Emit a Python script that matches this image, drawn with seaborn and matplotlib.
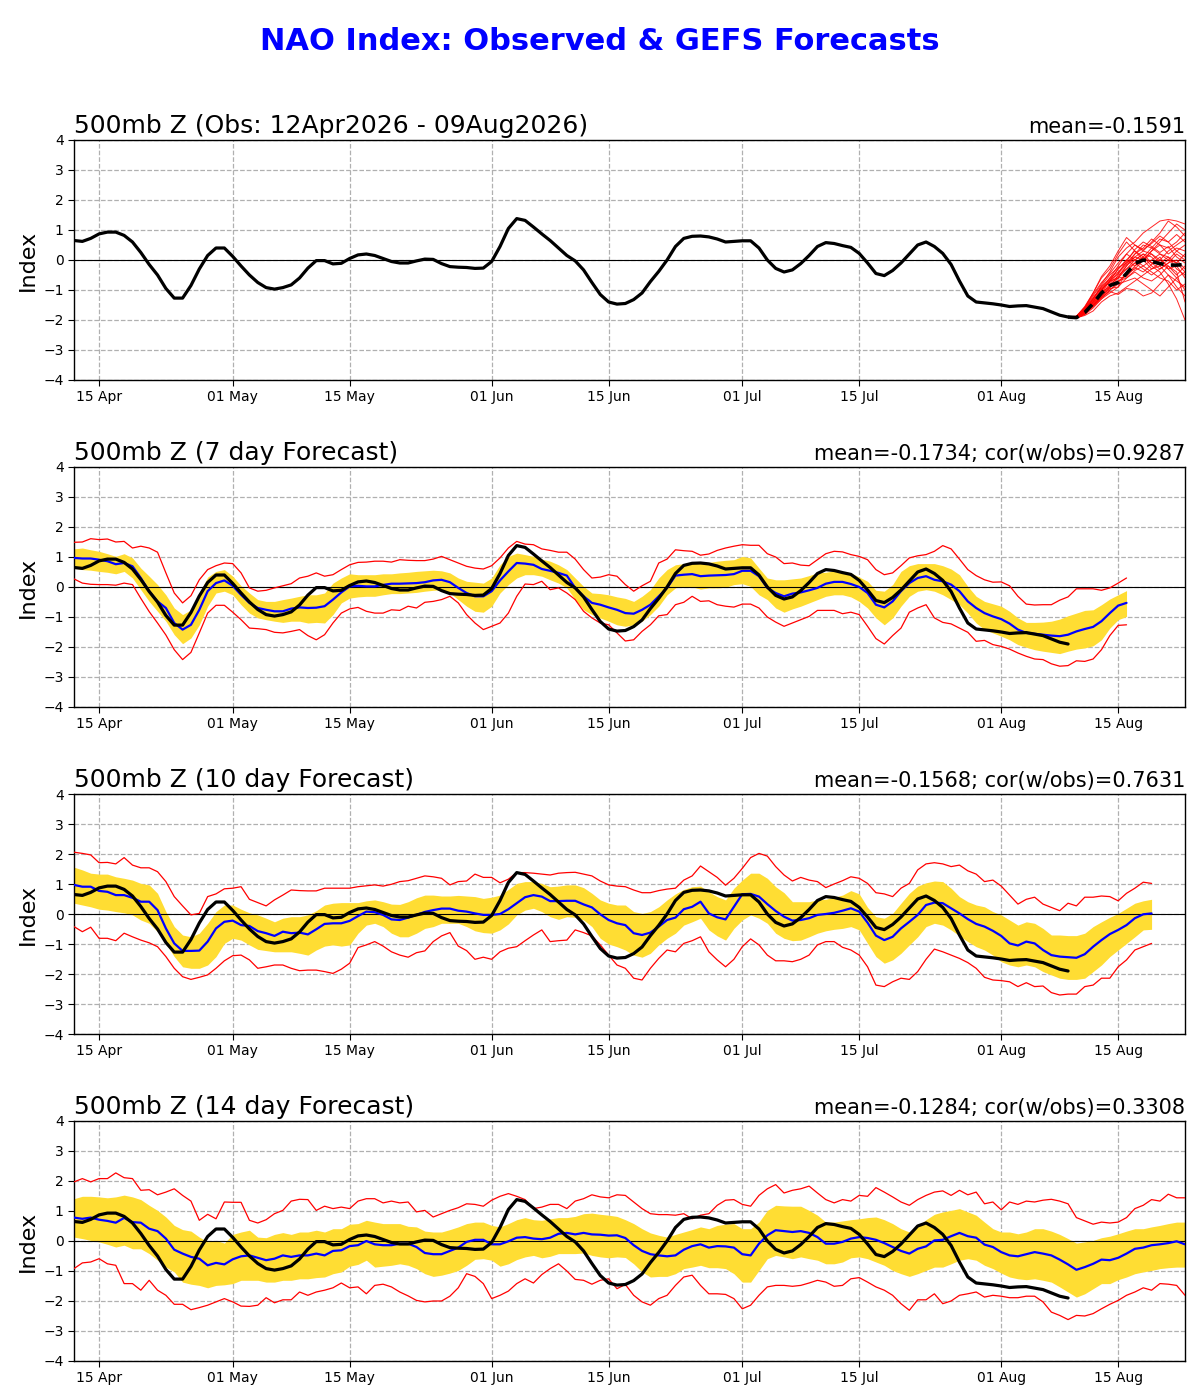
import numpy as np
import pandas as pd
import matplotlib
matplotlib.use("Agg")
import matplotlib.pyplot as plt
import matplotlib.dates as mdates
import seaborn as sns

# ---------------- data (daily, starting 12 Apr 2026) ----------------
start_date = "2026-04-12"

obs = [0.65, 0.62, 0.72, 0.87, 0.93, 0.93, 0.82, 0.6, 0.25, -0.15,
       -0.5, -0.95, -1.27, -1.27, -0.85, -0.3, 0.15, 0.4, 0.4, 0.12,
       -0.2, -0.5, -0.75, -0.92, -0.97, -0.92, -0.83, -0.6, -0.27, -0.02,
       -0.02, -0.13, -0.11, 0.05, 0.17, 0.2, 0.15, 0.05, -0.05, -0.1,
       -0.1, -0.03, 0.03, 0.02, -0.12, -0.22, -0.24, -0.25, -0.28, -0.27,
       -0.05, 0.45, 1.05, 1.38, 1.32, 1.1, 0.87, 0.65, 0.4, 0.15,
       -0.03, -0.33, -0.75, -1.15, -1.4, -1.47, -1.45, -1.32, -1.1, -0.72,
       -0.38, 0.0, 0.45, 0.72, 0.79, 0.8, 0.77, 0.7, 0.6, 0.62,
       0.64, 0.64, 0.4, 0.0, -0.28, -0.4, -0.33, -0.12, 0.15, 0.45,
       0.58, 0.55, 0.48, 0.42, 0.22, -0.1, -0.45, -0.52, -0.35, -0.1,
       0.2, 0.5, 0.6, 0.45, 0.22, -0.15, -0.7, -1.2, -1.4, -1.43,
       -1.46, -1.5, -1.55, -1.53, -1.52, -1.57, -1.62, -1.73, -1.84, -1.9]

# GEFS ensemble (top panel), 09 Aug .. 23 Aug
ens_members = [
    [-1.9, -1.88, -1.6, -1.2, -0.8, -0.4, 0.1, 0.4, 0.6, 0.9, 1.1, 1.3, 1.35, 1.3, 1.2],
    [-1.9, -1.9, -1.7, -1.4, -1.0, -0.6, -0.2, 0.2, 0.5, 0.3, 0.6, 0.9, 1.3, 1.1, 0.8],
    [-1.9, -1.95, -1.8, -1.5, -1.2, -0.9, -0.5, -0.3, 0.0, 0.2, 0.1, -0.2, -0.5, -0.9, -1.2],
    [-1.9, -1.92, -1.75, -1.45, -1.1, -0.7, -0.3, 0.0, 0.3, 0.1, -0.2, -0.4, -0.8, -1.3, -2.0],
    [-1.9, -1.9, -1.65, -1.3, -0.9, -0.6, -0.4, -0.1, 0.2, 0.5, 0.4, 0.2, 0.0, -0.1, 0.2],
    [-1.9, -1.93, -1.85, -1.7, -1.4, -1.2, -1.1, -0.9, -0.7, -0.5, -0.3, -0.1, 0.1, -0.1, -0.4],
    [-1.9, -1.88, -1.55, -1.1, -0.6, -0.3, 0.2, 0.6, 0.3, 0.0, -0.3, -0.2, 0.0, 0.3, 0.5],
    [-1.9, -1.91, -1.7, -1.35, -1.05, -0.9, -0.7, -0.5, -0.2, 0.0, 0.3, 0.6, 0.9, 1.2, 1.0],
    [-1.9, -1.94, -1.8, -1.55, -1.3, -1.0, -0.8, -0.7, -0.6, -0.8, -1.0, -1.2, -0.9, -0.6, -0.4],
    [-1.9, -1.9, -1.72, -1.42, -1.15, -0.8, -0.6, -0.3, -0.1, 0.1, -0.1, 0.0, 0.3, 0.5, 0.7],
    [-1.9, -1.89, -1.62, -1.25, -0.95, -0.75, -0.55, -0.2, 0.1, 0.3, 0.2, -0.1, -0.3, -0.2, -0.6],
    [-1.9, -1.92, -1.78, -1.5, -1.2, -0.95, -0.9, -0.6, -0.35, -0.2, -0.4, -0.6, -0.7, -1.0, -0.8],
    [-1.9, -1.9, -1.68, -1.3, -0.85, -0.5, -0.25, -0.1, 0.1, 0.0, 0.3, 0.5, 0.4, 0.6, 0.9],
    [-1.9, -1.93, -1.82, -1.6, -1.3, -1.1, -0.9, -0.4, -0.1, -0.3, -0.5, -0.3, -0.1, 0.2, 0.0],
    [-1.9, -1.87, -1.58, -1.15, -0.75, -0.45, -0.1, 0.2, 0.0, -0.2, 0.0, 0.2, 0.1, -0.3, -0.5],
    [-1.9, -1.91, -1.74, -1.4, -1.0, -0.7, -0.6, -0.2, 0.2, 0.4, 0.7, 0.5, 0.2, 0.4, 0.3],
    [-1.9, -1.92, -1.76, -1.48, -1.15, -0.85, -0.7, -0.6, -0.4, -0.6, -0.7, -0.5, -0.2, -0.4, -1.4],
    [-1.9, -1.9, -1.66, -1.28, -0.9, -0.65, -0.3, 0.0, -0.2, 0.1, 0.4, 0.7, 0.6, 0.3, 0.1],
    [-1.9, -1.93, -1.8, -1.52, -1.25, -1.0, -0.75, -0.45, -0.3, 0.0, 0.2, 0.0, -0.2, -0.5, -0.2],
    [-1.9, -1.89, -1.64, -1.32, -0.98, -0.72, -0.45, -0.15, 0.0, 0.2, -0.1, -0.3, -0.1, 0.0, -0.3],
    [-1.9, -1.92, -1.77, -1.5, -1.25, -1.05, -1.15, -0.95, -1.0, -1.2, -1.1, -0.8, -0.5, -0.7, -0.9],
    [-1.9, -1.88, -1.58, -1.1, -0.55, -0.2, 0.3, 0.75, 0.5, 0.35, 0.55, 0.8, 0.6, 0.85, 0.6],
    [-1.9, -1.9, -1.7, -1.38, -1.02, -0.68, -0.45, -0.05, 0.35, 0.6, 0.45, 0.25, 0.45, 0.1, -0.1],
    [-1.9, -1.93, -1.79, -1.55, -1.22, -0.92, -0.6, -0.55, -0.25, -0.4, -0.15, 0.1, -0.3, -0.6, -1.0],
]
ens_mean = [-1.9, -1.92, -1.75, -1.45, -1.1, -0.85, -0.75, -0.45, -0.12, 0.0,
            -0.05, -0.12, -0.17, -0.17, -0.15]

# 7-day forecast
mean7 = [0.97, 0.95, 0.95, 0.91, 0.86, 0.76, 0.8, 0.69, 0.3, -0.14,
         -0.48, -0.7, -1.2, -1.42, -1.26, -0.76, -0.14, 0.13, 0.22, 0.04,
         -0.26, -0.53, -0.7, -0.76, -0.81, -0.81, -0.72, -0.68, -0.7, -0.69,
         -0.64, -0.42, -0.18, 0.02, 0.04, 0.02, 0.02, 0.07, 0.11, 0.11,
         0.12, 0.13, 0.16, 0.22, 0.24, 0.16, -0.03, -0.2, -0.31, -0.31,
         -0.14, 0.22, 0.52, 0.8, 0.78, 0.74, 0.6, 0.54, 0.47, 0.38,
         -0.03, -0.31, -0.53, -0.59, -0.68, -0.76, -0.87, -0.89, -0.76, -0.59,
         -0.31, -0.03, 0.38, 0.41, 0.43, 0.36, 0.38, 0.39, 0.4, 0.43,
         0.54, 0.54, 0.36, -0.03, -0.2, -0.31, -0.22, -0.18, -0.11, -0.03,
         0.11, 0.17, 0.17, 0.1, 0.0, -0.2, -0.59, -0.68, -0.48, -0.14,
         0.13, 0.3, 0.36, 0.24, 0.19, 0.08, -0.14, -0.48, -0.7, -0.87,
         -0.98, -1.07, -1.22, -1.42, -1.53, -1.56, -1.59, -1.62, -1.64, -1.59,
         -1.48, -1.4, -1.33, -1.14, -0.87, -0.62, -0.53]
hi7 = [1.27, 1.3, 1.24, 1.19, 1.11, 1.02, 1.11, 0.97, 0.63, 0.36,
       0.08, -0.26, -0.7, -0.92, -0.76, -0.2, 0.33, 0.52, 0.58, 0.36,
       0.04, -0.2, -0.42, -0.48, -0.48, -0.42, -0.37, -0.31, -0.26, -0.26,
       -0.2, 0.13, 0.3, 0.44, 0.41, 0.41, 0.41, 0.44, 0.44, 0.47,
       0.49, 0.52, 0.54, 0.56, 0.54, 0.47, 0.3, 0.19, 0.16, 0.13,
       0.3, 0.74, 1.02, 1.13, 1.08, 1.02, 0.93, 0.86, 0.74, 0.58,
       0.3, 0.02, -0.2, -0.22, -0.26, -0.33, -0.38, -0.48, -0.31, -0.09,
       0.3, 0.58, 0.74, 0.78, 0.78, 0.8, 0.82, 0.86, 0.89, 0.91,
       1.02, 0.97, 0.63, 0.3, 0.24, 0.24, 0.27, 0.3, 0.38, 0.47,
       0.49, 0.54, 0.52, 0.47, 0.33, 0.19, -0.11, -0.14, 0.08, 0.52,
       0.71, 0.78, 0.78, 0.78, 0.71, 0.6, 0.41, 0.02, -0.31, -0.48,
       -0.56, -0.64, -0.81, -1.03, -1.18, -1.18, -1.17, -1.14, -1.07, -0.96,
       -0.87, -0.78, -0.76, -0.59, -0.4, -0.26, -0.12]
lo7 = [0.63, 0.58, 0.56, 0.52, 0.49, 0.44, 0.52, 0.3, -0.09, -0.48,
       -0.81, -1.14, -1.59, -1.89, -1.7, -1.26, -0.64, -0.2, -0.14, -0.26,
       -0.59, -0.87, -1.03, -1.09, -1.14, -1.18, -1.14, -1.14, -1.2, -1.18,
       -1.2, -0.92, -0.53, -0.37, -0.33, -0.31, -0.31, -0.26, -0.22, -0.22,
       -0.2, -0.18, -0.14, -0.11, -0.09, -0.2, -0.42, -0.64, -0.81, -0.84,
       -0.64, -0.2, 0.08, 0.3, 0.41, 0.41, 0.36, 0.24, 0.13, -0.03,
       -0.42, -0.76, -0.92, -1.03, -1.14, -1.26, -1.31, -1.26, -1.14, -0.92,
       -0.64, -0.26, -0.03, 0.02, 0.0, -0.07, -0.03, -0.03, -0.01, 0.08,
       0.11, 0.02, -0.26, -0.42, -0.7, -0.84, -0.73, -0.64, -0.53, -0.42,
       -0.31, -0.26, -0.26, -0.33, -0.48, -0.7, -1.03, -1.26, -1.03, -0.64,
       -0.31, -0.14, -0.09, -0.14, -0.26, -0.42, -0.59, -0.87, -1.2, -1.42,
       -1.53, -1.64, -1.76, -1.92, -2.01, -2.09, -2.14, -2.18, -2.22, -2.14,
       -2.07, -2.03, -1.96, -1.76, -1.37, -1.09, -0.98]
max7 = [1.49, 1.5, 1.61, 1.58, 1.6, 1.5, 1.52, 1.3, 1.36, 1.3,
        1.16, 0.47, -0.2, -0.53, -0.29, 0.24, 0.58, 0.71, 0.8, 0.78,
        0.47, -0.03, -0.14, -0.11, -0.03, 0.04, 0.11, 0.3, 0.36, 0.47,
        0.36, 0.41, 0.58, 0.74, 0.82, 0.83, 0.86, 0.86, 0.83, 0.91,
        0.89, 0.88, 0.88, 0.93, 1.02, 0.91, 0.8, 0.69, 0.63, 0.6,
        0.71, 0.97, 1.3, 1.52, 1.43, 1.41, 1.27, 1.22, 1.16, 1.16,
        0.93, 0.58, 0.3, 0.33, 0.41, 0.36, 0.08, -0.14, 0.04, 0.19,
        0.8, 0.93, 1.24, 1.21, 1.19, 1.06, 1.1, 1.22, 1.3, 1.36,
        1.41, 1.39, 1.39, 1.11, 1.0, 0.78, 0.8, 0.73, 0.71, 0.91,
        1.11, 1.19, 1.17, 1.08, 1.02, 0.91, 0.58, 0.41, 0.47, 0.71,
        0.97, 1.04, 1.08, 1.19, 1.38, 1.27, 0.93, 0.58, 0.38, 0.24,
        0.16, 0.17, 0.04, -0.31, -0.57, -0.6, -0.59, -0.59, -0.44, -0.33,
        -0.06, -0.06, -0.06, -0.11, -0.03, 0.13, 0.3]
min7 = [0.27, 0.13, 0.09, 0.08, 0.08, 0.06, 0.13, 0.08, -0.38, -0.82,
        -1.2, -1.6, -2.09, -2.42, -2.18, -1.53, -0.87, -0.61, -0.61, -0.84,
        -1.09, -1.37, -1.39, -1.42, -1.51, -1.53, -1.48, -1.42, -1.62, -1.76,
        -1.59, -1.2, -0.87, -0.73, -0.68, -0.81, -0.87, -0.87, -0.76, -0.78,
        -0.64, -0.7, -0.51, -0.48, -0.42, -0.31, -0.53, -0.92, -1.2, -1.42,
        -1.31, -1.2, -0.87, -0.31, 0.1, 0.08, 0.19, -0.09, -0.03, -0.2,
        -0.42, -0.81, -1.03, -1.2, -1.26, -1.53, -1.8, -1.76, -1.48, -1.26,
        -0.96, -0.92, -0.59, -0.51, -0.31, -0.48, -0.46, -0.59, -0.64, -0.67,
        -0.57, -0.57, -0.7, -1.0, -1.17, -1.31, -1.2, -1.09, -0.98, -0.78,
        -0.78, -0.78, -0.89, -0.84, -0.92, -1.31, -1.72, -1.9, -1.62, -1.37,
        -0.84, -0.7, -0.59, -1.03, -1.18, -1.23, -1.37, -1.51, -1.81, -1.78,
        -1.92, -1.98, -2.07, -2.2, -2.31, -2.4, -2.42, -2.56, -2.64, -2.62,
        -2.46, -2.48, -2.4, -2.09, -1.62, -1.28, -1.26]

# 10-day forecast
mean10 = [0.97, 0.91, 0.91, 0.77, 0.74, 0.63, 0.63, 0.54, 0.41, 0.41,
          0.13, -0.48, -0.98, -1.23, -1.23, -1.22, -0.92, -0.48, -0.26, -0.22,
          -0.37, -0.4, -0.57, -0.64, -0.73, -0.59, -0.64, -0.62, -0.68, -0.51,
          -0.33, -0.31, -0.31, -0.23, -0.07, 0.08, 0.06, -0.03, -0.18, -0.2,
          -0.12, -0.03, 0.07, 0.13, 0.18, 0.18, 0.11, 0.08, 0.02, -0.03,
          -0.03, 0.0, 0.16, 0.36, 0.56, 0.63, 0.58, 0.43, 0.43, 0.44,
          0.44, 0.32, 0.22, -0.01, -0.2, -0.31, -0.37, -0.64, -0.7, -0.62,
          -0.42, -0.2, -0.12, 0.16, 0.24, 0.41, 0.02, -0.11, -0.18, 0.24,
          0.66, 0.67, 0.58, 0.33, 0.1, -0.09, -0.22, -0.2, -0.14, -0.03,
          0.0, 0.04, 0.11, 0.19, 0.08, -0.29, -0.72, -0.87, -0.76, -0.48,
          -0.26, -0.03, 0.3, 0.38, 0.36, 0.19, 0.02, -0.17, -0.33, -0.42,
          -0.56, -0.73, -0.98, -1.05, -0.92, -0.98, -1.2, -1.37, -1.42, -1.44,
          -1.46, -1.34, -1.09, -0.87, -0.67, -0.53, -0.37, -0.14, -0.01, 0.02]
hi10 = [1.56, 1.47, 1.36, 1.33, 1.33, 1.24, 1.19, 1.13, 1.02, 0.97,
        0.69, 0.08, -0.42, -0.7, -0.76, -0.64, -0.31, 0.08, 0.3, 0.3,
        0.16, 0.04, -0.03, -0.14, -0.26, -0.14, -0.09, -0.09, -0.03, 0.11,
        0.3, 0.36, 0.38, 0.38, 0.38, 0.44, 0.47, 0.41, 0.33, 0.32,
        0.41, 0.54, 0.63, 0.63, 0.6, 0.6, 0.62, 0.6, 0.58, 0.52,
        0.56, 0.63, 0.82, 1.02, 1.08, 1.08, 1.02, 0.91, 0.93, 0.97,
        0.97, 0.88, 0.69, 0.47, 0.36, 0.3, 0.3, 0.08, 0.02, 0.08,
        0.24, 0.47, 0.67, 0.82, 0.91, 0.93, 0.74, 0.58, 0.47, 0.86,
        1.13, 1.36, 1.36, 1.19, 0.91, 0.71, 0.41, 0.41, 0.41, 0.47,
        0.49, 0.56, 0.63, 0.78, 0.67, 0.22, -0.09, -0.14, 0.02, 0.36,
        0.69, 0.93, 1.04, 1.1, 1.08, 0.86, 0.58, 0.41, 0.3, 0.24,
        0.08, -0.03, -0.2, -0.37, -0.26, -0.31, -0.48, -0.7, -0.7, -0.72,
        -0.72, -0.64, -0.42, -0.26, -0.11, 0.02, 0.19, 0.36, 0.44, 0.49]
lo10 = [0.36, 0.3, 0.24, 0.16, 0.13, 0.08, 0.04, -0.03, -0.2, -0.31,
        -0.59, -0.98, -1.42, -1.76, -1.81, -1.81, -1.7, -1.42, -0.98, -0.81,
        -0.87, -1.03, -1.18, -1.22, -1.26, -1.26, -1.26, -1.31, -1.37, -1.2,
        -1.07, -1.03, -1.07, -1.03, -0.64, -0.37, -0.31, -0.42, -0.64, -0.76,
        -0.76, -0.64, -0.48, -0.42, -0.31, -0.31, -0.31, -0.42, -0.56, -0.62,
        -0.64, -0.53, -0.33, -0.03, 0.13, 0.19, 0.08, -0.09, -0.18, -0.09,
        -0.11, -0.2, -0.42, -0.81, -1.0, -1.09, -1.2, -1.37, -1.44, -1.31,
        -1.03, -0.81, -0.64, -0.37, -0.26, -0.14, -0.53, -0.73, -0.87, -0.48,
        -0.2, -0.03, -0.14, -0.31, -0.64, -0.81, -0.89, -0.87, -0.76, -0.64,
        -0.56, -0.51, -0.48, -0.42, -0.53, -0.98, -1.42, -1.64, -1.53, -1.31,
        -1.03, -0.76, -0.42, -0.31, -0.37, -0.53, -0.73, -0.92, -1.09, -1.2,
        -1.37, -1.59, -1.7, -1.76, -1.7, -1.76, -1.92, -2.03, -2.14, -2.18,
        -2.18, -2.14, -1.92, -1.7, -1.42, -1.2, -0.98, -0.76, -0.53, -0.51]
max10 = [2.06, 2.02, 1.97, 1.71, 1.72, 1.67, 1.88, 1.63, 1.54, 1.54,
         1.41, 1.08, 0.58, 0.27, -0.03, 0.02, 0.58, 0.67, 0.84, 0.86,
         0.91, 0.49, 0.38, 0.27, 0.47, 0.63, 0.8, 0.78, 0.77, 0.77,
         0.86, 0.86, 0.86, 0.86, 0.91, 0.94, 0.97, 0.93, 0.99, 1.08,
         1.11, 1.19, 1.27, 1.24, 1.19, 0.97, 1.08, 1.1, 1.33, 1.22,
         1.22, 1.04, 1.16, 1.38, 1.38, 1.36, 1.33, 1.3, 1.36, 1.38,
         1.39, 1.33, 1.27, 1.1, 0.97, 0.93, 0.91, 0.8, 0.71, 0.71,
         0.78, 0.83, 0.86, 1.13, 1.27, 1.6, 1.41, 1.22, 0.96, 1.19,
         1.52, 1.88, 2.02, 1.93, 1.58, 1.3, 1.1, 1.22, 1.13, 1.08,
         0.88, 1.0, 1.11, 1.24, 1.19, 1.02, 0.71, 0.67, 0.58, 0.86,
         1.02, 1.47, 1.67, 1.71, 1.67, 1.58, 1.63, 1.44, 1.33, 1.08,
         1.13, 0.93, 0.63, 0.33, 0.49, 0.56, 0.33, 0.22, 0.11, 0.36,
         0.27, 0.56, 0.56, 0.6, 0.58, 0.44, 0.69, 0.86, 1.06, 1.02]
min10 = [-0.42, -0.59, -0.44, -0.81, -0.81, -0.89, -0.64, -0.76, -0.87, -0.96,
         -1.09, -1.42, -1.81, -2.09, -2.18, -2.11, -2.03, -1.81, -1.56, -1.39,
         -1.37, -1.53, -1.81, -1.76, -1.7, -1.7, -1.81, -1.89, -1.87, -1.87,
         -1.92, -1.98, -1.84, -1.64, -1.12, -1.03, -0.92, -1.07, -1.26, -1.37,
         -1.44, -1.29, -1.23, -0.92, -0.73, -0.62, -1.07, -1.22, -1.51, -1.44,
         -1.51, -1.26, -1.14, -1.09, -0.89, -0.7, -0.53, -0.92, -0.89, -0.87,
         -0.53, -0.62, -0.73, -1.03, -1.37, -1.7, -1.81, -2.14, -2.2, -1.81,
         -1.48, -1.2, -1.26, -0.98, -0.89, -0.76, -1.26, -1.53, -1.76, -1.51,
         -1.09, -0.83, -1.03, -1.37, -1.56, -1.56, -1.59, -1.51, -1.37, -1.03,
         -0.92, -0.92, -1.11, -1.2, -1.37, -1.76, -2.37, -2.42, -2.26, -2.14,
         -2.18, -1.92, -1.51, -1.17, -1.26, -1.37, -1.48, -1.62, -1.81, -2.11,
         -2.2, -2.22, -2.26, -2.42, -2.29, -2.42, -2.4, -2.62, -2.7, -2.67,
         -2.67, -2.42, -2.37, -2.14, -2.14, -1.76, -1.53, -1.2, -1.09, -0.98]

# 14-day forecast
mean14 = [0.78, 0.74, 0.78, 0.71, 0.67, 0.61, 0.77, 0.63, 0.61, 0.41,
          0.33, 0.08, -0.29, -0.42, -0.53, -0.59, -0.81, -0.73, -0.78, -0.61,
          -0.51, -0.48, -0.56, -0.64, -0.59, -0.48, -0.53, -0.48, -0.48, -0.42,
          -0.48, -0.33, -0.31, -0.17, -0.14, 0.0, -0.11, -0.14, -0.14, -0.09,
          -0.09, -0.2, -0.4, -0.44, -0.44, -0.33, -0.22, -0.03, 0.04, 0.04,
          -0.11, -0.11, -0.01, 0.11, 0.13, 0.08, 0.06, 0.11, 0.24, 0.27,
          0.22, 0.27, 0.22, 0.21, 0.18, 0.19, 0.1, -0.14, -0.33, -0.44,
          -0.48, -0.51, -0.48, -0.29, -0.17, -0.11, -0.22, -0.17, -0.18, -0.22,
          -0.44, -0.48, -0.09, 0.19, 0.36, 0.33, 0.3, 0.33, 0.27, 0.13,
          -0.09, -0.09, -0.03, 0.08, 0.13, 0.1, 0.04, -0.07, -0.2, -0.33,
          -0.42, -0.26, -0.18, 0.02, 0.04, 0.16, 0.27, 0.16, 0.11, -0.12,
          -0.2, -0.37, -0.48, -0.51, -0.44, -0.37, -0.42, -0.48, -0.62, -0.78,
          -0.96, -0.87, -0.76, -0.62, -0.64, -0.56, -0.42, -0.26, -0.22, -0.14,
          -0.11, -0.07, -0.01, -0.11]
hi14 = [1.41, 1.49, 1.49, 1.47, 1.44, 1.47, 1.53, 1.47, 1.38, 1.19,
        1.02, 0.8, 0.52, 0.38, 0.33, 0.13, -0.03, 0.02, -0.07, 0.22,
        0.3, 0.36, 0.13, 0.11, 0.22, 0.28, 0.22, 0.3, 0.3, 0.36,
        0.3, 0.41, 0.41, 0.56, 0.58, 0.69, 0.63, 0.58, 0.58, 0.58,
        0.49, 0.47, 0.33, 0.3, 0.3, 0.38, 0.47, 0.58, 0.63, 0.63,
        0.52, 0.47, 0.58, 0.71, 0.78, 0.71, 0.69, 0.74, 0.78, 0.78,
        0.82, 0.91, 0.93, 0.89, 0.86, 0.82, 0.71, 0.58, 0.41, 0.27,
        0.19, 0.13, 0.22, 0.3, 0.38, 0.47, 0.41, 0.52, 0.56, 0.58,
        0.41, 0.41, 0.63, 1.02, 1.19, 1.17, 1.16, 1.16, 1.02, 0.86,
        0.63, 0.63, 0.67, 0.71, 0.74, 0.78, 0.8, 0.71, 0.58, 0.41,
        0.3, 0.49, 0.71, 0.89, 0.97, 1.02, 1.08, 0.97, 0.86, 0.63,
        0.41, 0.3, 0.3, 0.24, 0.3, 0.41, 0.41, 0.33, 0.22, 0.08,
        -0.07, -0.03, 0.02, 0.11, 0.16, 0.24, 0.33, 0.41, 0.41, 0.47,
        0.52, 0.58, 0.63, 0.63]
lo14 = [0.13, 0.08, 0.02, -0.03, -0.11, -0.2, -0.14, -0.26, -0.26, -0.42,
        -0.64, -0.87, -1.03, -1.37, -1.44, -1.48, -1.56, -1.48, -1.46, -1.42,
        -1.31, -1.31, -1.31, -1.37, -1.37, -1.31, -1.31, -1.26, -1.26, -1.22,
        -1.2, -1.09, -1.03, -0.84, -0.78, -0.64, -0.87, -0.84, -0.81, -0.76,
        -0.81, -0.92, -1.09, -1.18, -1.14, -1.07, -0.98, -0.81, -0.61, -0.59,
        -0.64, -0.84, -0.76, -0.62, -0.53, -0.48, -0.56, -0.51, -0.42, -0.42,
        -0.42, -0.4, -0.48, -0.53, -0.56, -0.53, -0.55, -0.76, -1.03, -1.2,
        -1.18, -1.18, -1.09, -0.92, -0.87, -0.81, -0.89, -0.89, -0.92, -1.09,
        -1.37, -1.37, -0.98, -0.59, -0.48, -0.53, -0.59, -0.53, -0.59, -0.64,
        -0.76, -0.76, -0.7, -0.56, -0.53, -0.59, -0.7, -0.81, -0.98, -1.09,
        -1.18, -1.09, -0.98, -0.87, -0.87, -0.76, -0.64, -0.59, -0.64, -0.81,
        -0.92, -1.07, -1.2, -1.26, -1.29, -1.26, -1.31, -1.37, -1.53, -1.7,
        -1.87, -1.76, -1.59, -1.42, -1.42, -1.29, -1.2, -1.09, -1.03, -0.98,
        -0.92, -0.89, -0.87, -0.87]
max14 = [1.97, 2.08, 1.97, 2.08, 2.08, 2.27, 2.11, 2.08, 1.69, 1.71,
         1.54, 1.63, 1.74, 1.52, 1.33, 0.69, 0.89, 0.74, 1.3, 1.29,
         1.29, 0.69, 0.6, 0.71, 0.91, 1.02, 1.33, 1.39, 1.38, 1.02,
         1.16, 1.08, 1.13, 1.08, 1.33, 1.41, 1.41, 1.27, 1.33, 1.27,
         1.3, 0.97, 1.02, 0.8, 0.91, 1.02, 1.11, 1.24, 1.22, 1.16,
         1.36, 1.49, 1.58, 1.49, 1.38, 1.08, 1.13, 1.22, 1.22, 1.08,
         1.33, 1.41, 1.54, 1.47, 1.44, 1.54, 1.52, 1.3, 1.08, 0.91,
         0.88, 0.88, 0.86, 0.91, 0.74, 0.86, 0.91, 1.19, 1.36, 1.38,
         1.22, 1.16, 1.52, 1.74, 1.88, 1.6, 1.69, 1.74, 1.83, 1.6,
         1.38, 1.27, 1.38, 1.33, 1.52, 1.49, 1.78, 1.63, 1.47, 1.3,
         1.19, 1.38, 1.52, 1.63, 1.67, 1.52, 1.69, 1.54, 1.63, 1.24,
         1.3, 1.04, 1.3, 1.22, 1.33, 1.3, 1.36, 1.39, 1.33, 1.24,
         0.78, 0.67, 0.56, 0.63, 0.6, 0.63, 0.78, 1.08, 1.19, 1.38,
         1.33, 1.56, 1.44, 1.44]
min14 = [-0.92, -0.73, -0.7, -0.59, -0.76, -0.81, -1.42, -1.42, -1.64, -1.31,
         -1.64, -1.81, -2.11, -2.11, -2.29, -2.22, -2.14, -2.03, -1.92, -2.03,
         -2.17, -2.18, -2.14, -1.89, -2.06, -1.96, -1.96, -1.7, -1.81, -1.7,
         -1.64, -1.56, -1.4, -1.56, -1.53, -1.76, -1.48, -1.44, -1.53, -1.7,
         -1.83, -1.98, -2.03, -2.0, -2.0, -1.84, -1.56, -1.09, -1.18, -1.42,
         -1.92, -1.81, -1.67, -1.42, -1.26, -1.4, -1.12, -0.92, -0.76, -1.0,
         -1.28, -1.31, -1.44, -1.31, -1.26, -1.59, -1.45, -1.81, -2.03, -2.14,
         -1.92, -1.81, -1.48, -1.2, -1.14, -1.48, -1.76, -1.76, -1.78, -1.92,
         -2.26, -2.14, -1.81, -1.53, -1.48, -1.48, -1.51, -1.48, -1.4, -1.31,
         -1.37, -1.51, -1.48, -1.26, -1.22, -1.37, -1.53, -1.64, -1.81, -2.09,
         -2.31, -1.96, -1.96, -1.76, -2.09, -2.0, -1.81, -1.76, -1.7, -1.87,
         -1.81, -1.84, -1.89, -1.89, -1.84, -1.84, -2.03, -2.37, -2.48, -2.62,
         -2.48, -2.5, -2.42, -2.26, -2.11, -1.98, -1.81, -1.7, -1.56, -1.64,
         -1.42, -1.44, -1.48, -1.81]

titles_left = ["500mb Z (Obs: 12Apr2026 - 09Aug2026)", "500mb Z (7 day Forecast)",
               "500mb Z (10 day Forecast)", "500mb Z (14 day Forecast)"]
titles_right = ["mean=-0.1591", "mean=-0.1734; cor(w/obs)=0.9287",
                "mean=-0.1568; cor(w/obs)=0.7631", "mean=-0.1284; cor(w/obs)=0.3308"]
suptitle = "NAO Index: Observed & GEFS Forecasts"

# ---------------- style ----------------
sns.set_style("ticks")
plt.rcParams["font.family"] = ["DejaVu Sans"]
plt.rcParams["axes.edgecolor"] = "black"
plt.rcParams["axes.labelcolor"] = "black"
plt.rcParams["text.color"] = "black"
plt.rcParams["xtick.color"] = "black"
plt.rcParams["ytick.color"] = "black"
plt.rcParams["xtick.labelcolor"] = "black"
plt.rcParams["ytick.labelcolor"] = "black"

W, H = 1200, 1400
fig = plt.figure(figsize=(12, 14), dpi=100)
fig.patch.set_facecolor("white")

ax_left = 74 / W
ax_w = 1111 / W
ax_h = 240 / H
tops = [140, 467, 794, 1121]

dates_all = pd.date_range(start_date, periods=134, freq="D")
x0 = pd.Timestamp("2026-04-12")
x1 = pd.Timestamp("2026-08-23")

FILL = "#FFDD33"


def series_df(vals, offset=0):
    return pd.DataFrame({"date": dates_all[offset:offset + len(vals)], "value": vals})


def style_axis(ax, i):
    ax.set_xlim(x0, x1)
    ax.set_ylim(-4, 4)
    ax.set_yticks(range(-4, 5))
    ax.xaxis.set_major_locator(mdates.DayLocator(bymonthday=[1, 15]))
    ax.xaxis.set_major_formatter(mdates.DateFormatter("%d %b"))
    ax.grid(True, color="#b0b0b0", linestyle="--", linewidth=0.9)
    ax.set_axisbelow(True)
    ax.axhline(0, color="black", linewidth=0.8, zorder=2.8)
    ax.tick_params(axis="both", labelsize=10, direction="out", length=4, width=0.8,
                   colors="black")
    ax.set_xlabel("")
    ax.set_ylabel("Index", fontsize=16, color="black")
    ax.set_title(titles_left[i], loc="left", fontsize=18, pad=5, color="black")
    ax.set_title(titles_right[i], loc="right", fontsize=15, pad=5, color="black")
    for s in ax.spines.values():
        s.set_linewidth(1.0)
        s.set_visible(True)
        s.set_color("black")


axes = []
for i, t in enumerate(tops):
    ax = fig.add_axes([ax_left, 1 - (t + 240) / H, ax_w, ax_h])
    axes.append(ax)

# --- panel 1: observed + ensemble
ax = axes[0]
ens_rows = []
for m, vals in enumerate(ens_members):
    for k, v in enumerate(vals):
        ens_rows.append({"date": dates_all[119 + k], "value": v, "member": m})
ens_df = pd.DataFrame(ens_rows)
sns.lineplot(data=ens_df, x="date", y="value", units="member", estimator=None,
             color="red", linewidth=0.7, alpha=0.85, ax=ax, legend=False, zorder=3)
sns.lineplot(data=series_df(obs), x="date", y="value", color="black",
             linewidth=2.3, ax=ax, zorder=5)
mean_df = series_df(ens_mean, 119)
sns.lineplot(data=mean_df, x="date", y="value", color="black", linewidth=2.6,
             ax=ax, zorder=6, linestyle=(0, (3, 2)))
style_axis(ax, 0)

# --- forecast panels
fc = [(mean7, hi7, lo7, max7, min7), (mean10, hi10, lo10, max10, min10),
      (mean14, hi14, lo14, max14, min14)]
for j, (mn, hi, lo, mx, mi) in enumerate(fc):
    ax = axes[j + 1]
    n = min(len(hi), len(lo))
    ax.fill_between(dates_all[:n], lo[:n], hi[:n], color=FILL, linewidth=0, zorder=2.5)
    sns.lineplot(data=series_df(mx), x="date", y="value", color="red",
                 linewidth=0.9, ax=ax, zorder=3)
    sns.lineplot(data=series_df(mi), x="date", y="value", color="red",
                 linewidth=0.9, ax=ax, zorder=3)
    sns.lineplot(data=series_df(mn), x="date", y="value", color="blue",
                 linewidth=1.6, ax=ax, zorder=4)
    sns.lineplot(data=series_df(obs), x="date", y="value", color="black",
                 linewidth=2.3, ax=ax, zorder=5)
    style_axis(ax, j + 1)

fig.text(0.5, 1 - 42 / H, suptitle, ha="center", va="center", fontsize=22,
         fontweight="bold", color="blue")

fig.savefig("out.png", dpi=100, facecolor="white")
